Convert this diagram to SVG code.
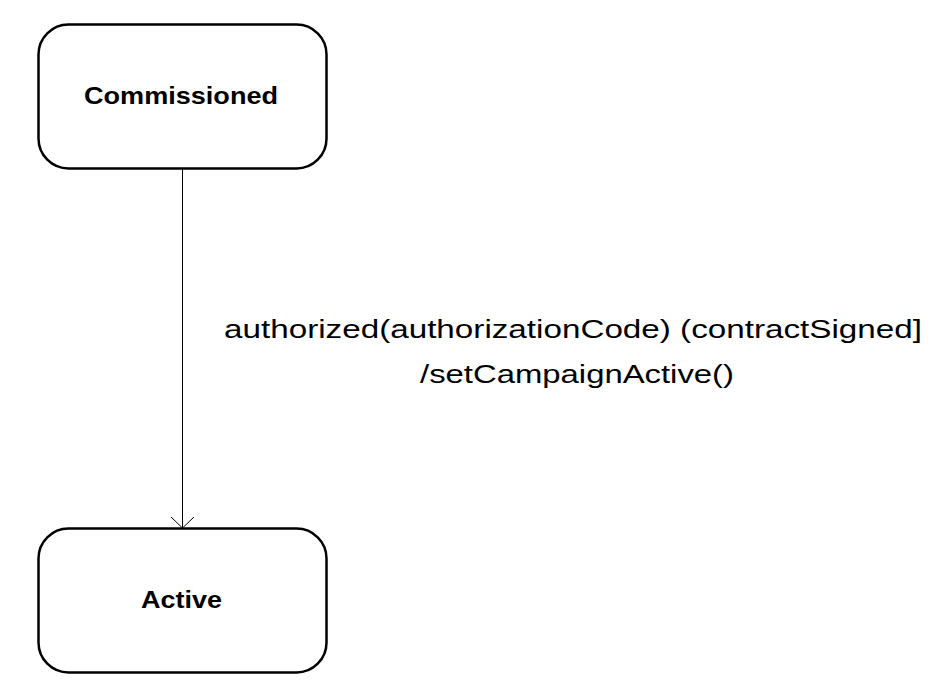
<svg xmlns="http://www.w3.org/2000/svg" width="943" height="685" viewBox="0 0 943 685">
<style>
.state{fill:#fff;stroke:#000;stroke-width:2.5}
.lbl{font-family:"Liberation Sans",Arial,sans-serif;font-weight:bold;font-size:24px;text-anchor:middle;fill:#000}
.edge{font-family:"Liberation Sans",Arial,sans-serif;font-size:26px;text-anchor:middle;fill:#000}
.conn{stroke:#000;stroke-width:1;fill:none}
</style>
<defs>
<marker id="open" markerWidth="14" markerHeight="26" refX="12" refY="0" markerUnits="userSpaceOnUse" orient="auto" viewBox="0 -13 14 26" overflow="visible">
<path d="M1 -11.5 L12 0 L1 11.5" fill="none" stroke="#000" stroke-width="1"/>
</marker>
</defs>
<rect width="943" height="685" fill="#fff"/>
<g id="connectors">
<line class="conn" x1="182.5" y1="169" x2="182.5" y2="528" marker-end="url(#open)"/>
<text class="edge" x="573" y="338" textLength="698" lengthAdjust="spacingAndGlyphs">authorized(authorizationCode) (contractSigned]</text>
<text class="edge" x="577" y="383" textLength="314" lengthAdjust="spacingAndGlyphs">/setCampaignActive()</text>
</g>
<g id="commissioned">
<rect class="state" x="38.5" y="24.5" width="288" height="144" rx="30" ry="30"/>
<text class="lbl" x="181" y="104" textLength="194" lengthAdjust="spacingAndGlyphs">Commissioned</text>
</g>
<g id="active">
<rect class="state" x="38.5" y="528.5" width="288" height="144" rx="30" ry="30"/>
<text class="lbl" x="181.5" y="608" textLength="81" lengthAdjust="spacingAndGlyphs">Active</text>
</g>
</svg>
